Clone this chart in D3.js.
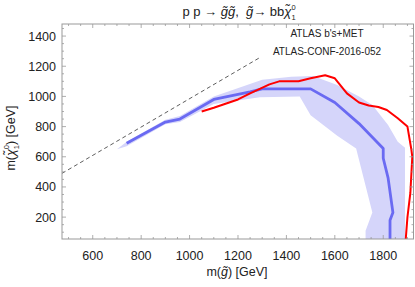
<!DOCTYPE html>
<html>
<head>
<meta charset="utf-8">
<script src="https://cdn.jsdelivr.net/npm/d3@7"></script>
<style>
  body { margin: 0; background: #fff; }
  text { font-family: "Liberation Sans", Arial, sans-serif; white-space: pre; }
</style>
</head>
<body>
<div id="chart"></div>
<script>
var w = 415, h = 287;

// observed limit (red)
var redX = [1050, 1100, 1200, 1250, 1290, 1330, 1370, 1450, 1500, 1560, 1600, 1650, 1700, 1740, 1780, 1815, 1860, 1900, 1916, 1920, 1912, 1900, 1893];
var redY = [900, 925, 980, 1020, 1050, 1080, 1100, 1100, 1120, 1140, 1120, 1020, 960, 940, 930, 910, 855, 800, 650, 600, 360, 200, 55];

// expected limit (blue)
var blueX = [740, 900, 960, 1100, 1250, 1300, 1500, 1600, 1700, 1800, 1800, 1820, 1840, 1828, 1828];
var blueY = [690, 830, 850, 980, 1030, 1050, 1050, 960, 820, 655, 590, 460, 230, 180, 55];

// expected +-1 sigma band
var bandUpX = [700, 740, 900, 960, 1100, 1300, 1420, 1510, 1610, 1700, 1755, 1820, 1860, 1890, 1890];
var bandUpY = [650, 700, 845, 870, 1000, 1110, 1130, 1135, 1075, 1000, 943, 810, 700, 660, 55];
var bandLoX = [700, 740, 900, 960, 1100, 1290, 1455, 1500, 1610, 1688, 1755, 1727, 1727];
var bandLoY = [650, 670, 815, 830, 950, 995, 1000, 875, 740, 655, 230, 110, 55];

// kinematic limit (dashed)
var diagX = [473, 1295];
var diagY = [490, 1262];

var xMajor = [600, 800, 1000, 1200, 1400, 1600, 1800];
var yMajor = [200, 400, 600, 800, 1000, 1200, 1400];

var x = d3.scaleLinear().domain([473, 1925]).range([62, 413.5]);
var y = d3.scaleLinear().domain([55, 1480]).range([239, 24]);

var svg = d3.select("#chart").append("svg")
    .attr("width", w)
    .attr("height", h);

svg.append("defs").append("clipPath").attr("id", "clip")
  .append("rect")
    .attr("x", x.range()[0]).attr("y", y.range()[1])
    .attr("width", x.range()[1] - x.range()[0])
    .attr("height", y.range()[0] - y.range()[1]);

var plot = svg.append("g").attr("clip-path", "url(#clip)");

function pts(xs, ys) {
  return xs.map(function(d, i) { return [d, ys[i]]; });
}

var line = d3.line()
  .x(function(d) { return x(d[0]); })
  .y(function(d) { return y(d[1]); });

var band = pts(bandUpX, bandUpY).concat(pts(bandLoX, bandLoY).reverse());

plot.append("path")
  .attr("d", line(band) + "Z")
  .attr("fill", "#d5d5fa")
  .attr("stroke", "none");

plot.append("path")
  .attr("d", line(pts(diagX, diagY)))
  .attr("fill", "none")
  .attr("stroke", "#333")
  .attr("stroke-width", 0.8)
  .attr("stroke-dasharray", "4,3");

plot.append("path")
  .attr("d", line(pts(blueX, blueY)))
  .attr("fill", "none")
  .attr("stroke", "#6a6af2")
  .attr("stroke-width", 2.8)
  .attr("stroke-linejoin", "round");

plot.append("path")
  .attr("d", line(pts(redX, redY)))
  .attr("fill", "none")
  .attr("stroke", "#ff0000")
  .attr("stroke-width", 2)
  .attr("stroke-linejoin", "round");

// frame with inward ticks on all sides
var frameColor = "#999";
var x0 = x.range()[0], x1 = x.range()[1], y0 = y.range()[0], y1 = y.range()[1];

svg.append("rect")
  .attr("x", x0).attr("y", y1)
  .attr("width", x1 - x0).attr("height", y0 - y1)
  .attr("fill", "none")
  .attr("stroke", frameColor)
  .attr("stroke-width", 1);

var xTicks = d3.range(500, 1925, 50);
var yTicks = d3.range(100, 1480, 50);
var ticks = svg.append("g").attr("stroke", frameColor).attr("stroke-width", 0.8);

xTicks.forEach(function(t) {
  var len = t % 200 === 0 ? 4 : 2;
  ticks.append("line").attr("x1", x(t)).attr("x2", x(t)).attr("y1", y0).attr("y2", y0 - len);
  ticks.append("line").attr("x1", x(t)).attr("x2", x(t)).attr("y1", y1).attr("y2", y1 + len);
});
yTicks.forEach(function(t) {
  var len = t % 200 === 0 ? 4 : 2;
  ticks.append("line").attr("y1", y(t)).attr("y2", y(t)).attr("x1", x0).attr("x2", x0 + len);
  ticks.append("line").attr("y1", y(t)).attr("y2", y(t)).attr("x1", x1).attr("x2", x1 - len);
});

svg.append("g").selectAll("text").data(xMajor).enter().append("text")
  .attr("x", function(d) { return x(d); })
  .attr("y", 259.5)
  .attr("text-anchor", "middle")
  .attr("font-size", 12.5)
  .attr("fill", "#222")
  .text(function(d) { return d; });

svg.append("g").selectAll("text").data(yMajor).enter().append("text")
  .attr("x", 56)
  .attr("y", function(d) { return y(d) + 4.5; })
  .attr("text-anchor", "end")
  .attr("font-size", 12.5)
  .attr("fill", "#222")
  .text(function(d) { return d; });

// title
var title = svg.append("text")
  .attr("x", 239).attr("y", 16)
  .attr("text-anchor", "middle")
  .attr("font-size", 13)
  .attr("fill", "#222");
title.append("tspan").text("p p \u2192 ");
title.append("tspan").attr("font-style", "italic").text("g\u0303g\u0303");
title.append("tspan").text(",\u00a0\u00a0");
title.append("tspan").attr("font-style", "italic").text("g\u0303");
title.append("tspan").text("\u2192 bb");
title.append("tspan").attr("font-style", "italic").text("\u03c7\u0303");
title.append("tspan").attr("font-size", 7.5).attr("dy", -6).text("0");
title.append("tspan").attr("font-size", 7.5).attr("dx", -4.2).attr("dy", 9.5).text("1");

// annotation
svg.append("text")
  .attr("x", 327).attr("y", 37)
  .attr("text-anchor", "middle")
  .attr("font-size", 10)
  .attr("fill", "#222")
  .text("ATLAS b's+MET");
svg.append("text")
  .attr("x", 327).attr("y", 55)
  .attr("text-anchor", "middle")
  .attr("font-size", 10)
  .attr("fill", "#222")
  .text("ATLAS-CONF-2016-052");

// axis labels
var xl = svg.append("text")
  .attr("x", 237).attr("y", 276)
  .attr("text-anchor", "middle")
  .attr("font-size", 12.5)
  .attr("fill", "#222");
xl.append("tspan").text("m(");
xl.append("tspan").attr("font-style", "italic").text("g\u0303");
xl.append("tspan").text(") [GeV]");

var yl = svg.append("text")
  .attr("transform", "translate(15,138) rotate(-90)")
  .attr("text-anchor", "middle")
  .attr("font-size", 12.5)
  .attr("fill", "#222");
yl.append("tspan").text("m(");
yl.append("tspan").attr("font-style", "italic").text("\u03c7\u0303");
yl.append("tspan").attr("font-size", 7.5).attr("dy", -6).text("0");
yl.append("tspan").attr("font-size", 7.5).attr("dx", -4.2).attr("dy", 9.5).text("1");
yl.append("tspan").attr("dy", -3.5).text(") [GeV]");
</script>
</body>
</html>
